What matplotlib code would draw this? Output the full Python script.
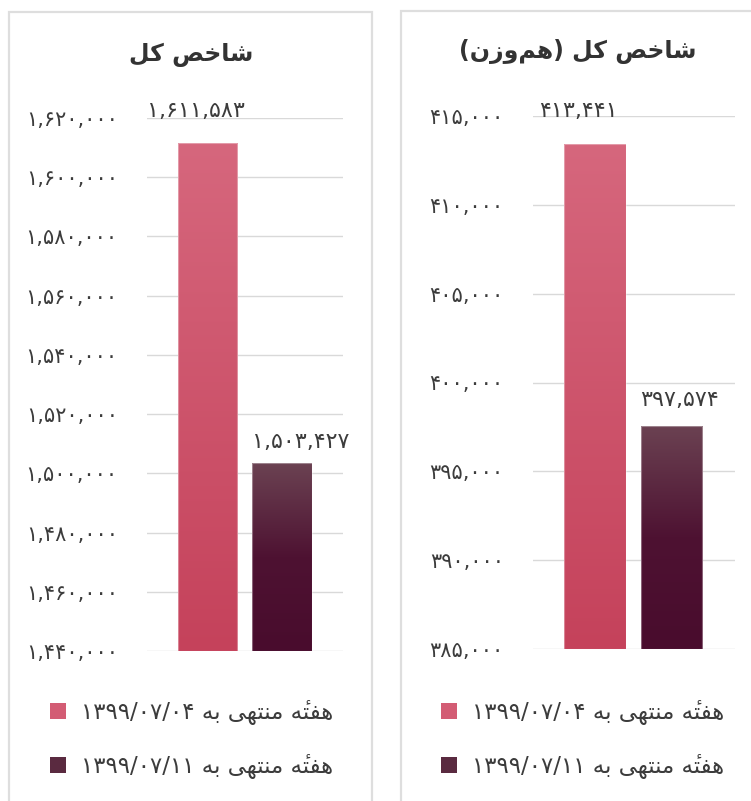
import matplotlib
matplotlib.use("Agg")
import matplotlib.pyplot as plt
import numpy as np
from matplotlib.patches import Rectangle, Patch
from matplotlib.colors import LinearSegmentedColormap
from matplotlib.ticker import FuncFormatter, MultipleLocator

plt.rcParams['font.family'] = ['DejaVu Sans']

# ---------------- data ----------------
series_labels = ["هفتهٔ منتهی به", "هفتهٔ منتهی به"]
series_dates = ["1399/07/04", "1399/07/11"]
left_title = "شاخص کل"
right_title = "شاخص کل (هم‌وزن)"
left_values = [1611583, 1503427]
right_values = [413441, 397574]
left_ylim = (1440000, 1620000)
left_step = 20000
right_ylim = (385000, 415000)
right_step = 5000

# ---------------- persian helpers ----------------
FORMS = {
    '\u0627': ('\uFE8D', '\uFE8E', None, None),
    '\u0628': ('\uFE8F', '\uFE90', '\uFE91', '\uFE92'),
    '\u062A': ('\uFE95', '\uFE96', '\uFE97', '\uFE98'),
    '\u062E': ('\uFEA5', '\uFEA6', '\uFEA7', '\uFEA8'),
    '\u0632': ('\uFEAF', '\uFEB0', None, None),
    '\u0634': ('\uFEB5', '\uFEB6', '\uFEB7', '\uFEB8'),
    '\u0635': ('\uFEB9', '\uFEBA', '\uFEBB', '\uFEBC'),
    '\u0641': ('\uFED1', '\uFED2', '\uFED3', '\uFED4'),
    '\u0644': ('\uFEDD', '\uFEDE', '\uFEDF', '\uFEE0'),
    '\u0645': ('\uFEE1', '\uFEE2', '\uFEE3', '\uFEE4'),
    '\u0646': ('\uFEE5', '\uFEE6', '\uFEE7', '\uFEE8'),
    '\u0647': ('\uFEE9', '\uFEEA', '\uFEEB', '\uFEEC'),
    '\u0648': ('\uFEED', '\uFEEE', None, None),
    '\u06CC': ('\uFBFC', '\uFBFD', '\uFBFE', '\uFBFF'),
    '\u06A9': ('\uFB8E', '\uFB8F', '\uFB90', '\uFB91'),
}
MARKS = {'\u0654'}
MIRROR = {'(': ')', ')': '('}


def shape(text):
    chars = list(text)
    base = [c for c in chars if c not in MARKS]
    out = []
    bi = 0
    for c in chars:
        if c in MARKS:
            out.append(c)
            continue
        prev = base[bi - 1] if bi > 0 else None
        nxt = base[bi + 1] if bi + 1 < len(base) else None
        bi += 1
        if c not in FORMS:
            out.append(c)
            continue
        jp = prev in FORMS and FORMS[prev][2] is not None
        jn = nxt in FORMS and FORMS[c][2] is not None
        iso, fin, ini, med = FORMS[c]
        if jp and jn:
            out.append(med)
        elif jp:
            out.append(fin)
        elif jn:
            out.append(ini)
        else:
            out.append(iso)
    return out


def rtl(text):
    glyphs = shape(text)
    groups = []
    for g in glyphs:
        if g in MARKS and groups:
            groups[-1] += g
        else:
            groups.append(g)
    s = ''.join(MIRROR.get(g, g) for g in groups[::-1])
    return s.replace('\u200c', '')


def fa_digits(s):
    return s.translate(str.maketrans('0123456789', '۰۱۲۳۴۵۶۷۸۹'))


def fa_num(v, pos=None):
    return fa_digits(f"{int(round(v)):,}")


# ---------------- figure ----------------
W, H = 751, 801
PX = 0.72  # points per pixel at 100 dpi
fig = plt.figure(figsize=(W / 100, H / 100), dpi=100)

border = '#dedede'
fig.add_artist(Rectangle((9 / W, -0.05), (372 - 9) / W, 1.05 - 12 / H,
                         transform=fig.transFigure, fill=False,
                         edgecolor=border, lw=1.6))
fig.add_artist(Rectangle((401 / W, -0.05), 0.6, 1.05 - 11 / H,
                         transform=fig.transFigure, fill=False,
                         edgecolor=border, lw=1.6))

pink_cmap = LinearSegmentedColormap.from_list('p', ['#c5425b', '#d6677d'])
dark_cmap = LinearSegmentedColormap.from_list('d', ['#490c2d', '#4e1232', '#6b4252'])
cmaps = [pink_cmap, dark_cmap]
solid = ['#d35c74', '#5a2a40']

text_color = '#3c3c3c'
grid_color = '#d9d9d9'


def panel(rect, values, ylim, step, title, title_xy, xlim, leg_anchor,
          label_off):
    ax = fig.add_axes(rect)
    xs = np.arange(len(values))
    bars = ax.bar(xs, values, width=0.80, color='none', edgecolor='none',
                  zorder=2)
    grad = np.linspace(0, 1, 256).reshape(-1, 1)
    for b, cm in zip(bars, cmaps):
        x0 = b.get_x()
        x1 = x0 + b.get_width()
        im = ax.imshow(grad, extent=[x0, x1, ylim[0], b.get_height()],
                       origin='lower', aspect='auto', cmap=cm, zorder=2)
        im.set_clip_path(b)
        ax.add_patch(Rectangle((x0, ylim[0]), b.get_width(),
                               b.get_height() - ylim[0], fill=False,
                               edgecolor='white', alpha=0.35, lw=0.8,
                               zorder=3))
    for b, v, (dx, dy) in zip(bars, values, label_off):
        ax.annotate(fa_num(v), (b.get_x() + b.get_width() / 2, v),
                    xytext=(dx * PX, dy * PX), textcoords='offset points',
                    ha='center', va='center', fontsize=16,
                    color=text_color, zorder=4, annotation_clip=False)
    ax.set_xlim(*xlim)
    ax.set_ylim(*ylim)
    ax.yaxis.set_major_locator(MultipleLocator(step))
    ax.yaxis.set_major_formatter(FuncFormatter(fa_num))
    ax.grid(axis='y', color=grid_color, lw=1, zorder=0)
    ax.set_axisbelow(True)
    for s in ax.spines.values():
        s.set_visible(False)
    ax.tick_params(axis='y', length=0, pad=21, labelsize=15,
                   labelcolor=text_color)
    ax.tick_params(axis='x', length=0, labelbottom=False)
    fig.text(title_xy[0] / W, 1 - title_xy[1] / H, rtl(title),
             ha='center', va='center', fontsize=17, fontweight='bold',
             color='#333333')
    handles = [Patch(facecolor=c, edgecolor='none') for c in solid]
    labels = [fa_digits(d) + ' ' + rtl(l) for l, d in zip(series_labels, series_dates)]
    ax.legend(handles, labels, loc='upper left',
              bbox_to_anchor=(leg_anchor[0] / W, 1 - leg_anchor[1] / H),
              bbox_transform=fig.transFigure, frameon=False, fontsize=16.5,
              handlelength=0.68, handleheight=0.68, handletextpad=0.68,
              labelspacing=1.28, borderpad=0, borderaxespad=0,
              labelcolor=text_color)
    return ax


panel([147 / W, 1 - 651 / H, 196 / W, 533 / H], left_values, left_ylim,
      left_step, left_title, (191, 55), (-0.81, 1.82), (50, 700),
      [(-11, 32), (19, 21)])
panel([533 / W, 1 - 649 / H, 202 / W, 533 / H], right_values, right_ylim,
      right_step, right_title, (578, 51), (-0.81, 1.83), (441, 700),
      [(-17, 33), (8, 26)])

fig.savefig('out.png', dpi=100)
